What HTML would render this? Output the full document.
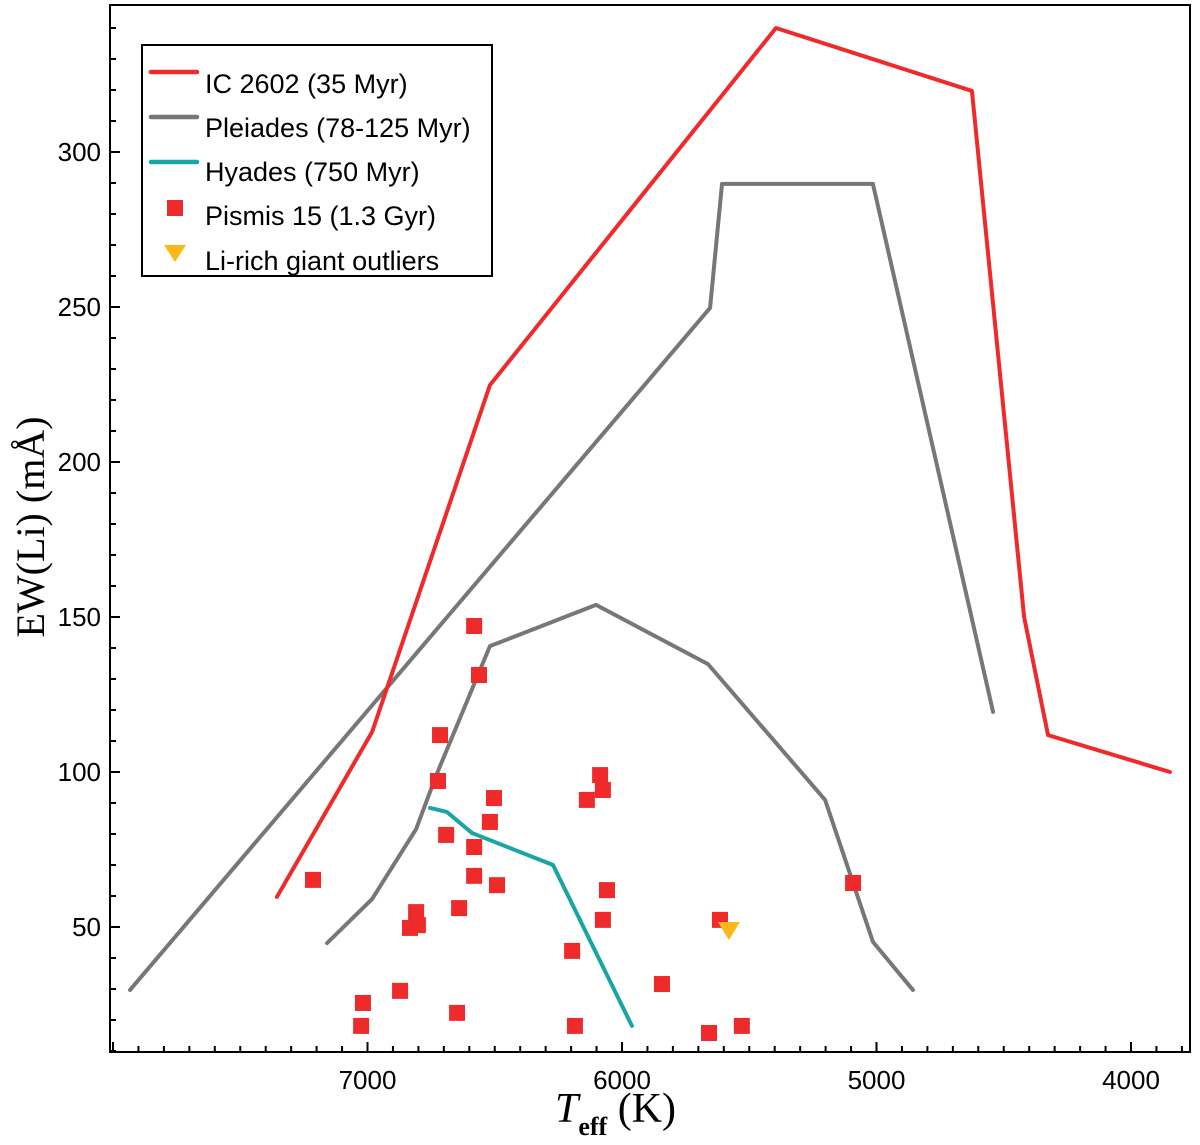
<!DOCTYPE html>
<html><head><meta charset="utf-8"><style>
html,body{margin:0;padding:0;background:#fff;}
svg{display:block;}
</style></head><body>
<svg id="chart" width="1200" height="1145" xmlns="http://www.w3.org/2000/svg">
<rect x="110" y="5" width="1080" height="1047" fill="#fff" stroke="#000" stroke-width="2"/>
<g id="ticks"></g>
<g id="series"></g>
<text transform="translate(44,527) rotate(-90)" text-anchor="middle" font-family="Liberation Serif, serif" font-size="40">EW(Li) (mÅ)</text>
<text x="555" y="1122" font-family="Liberation Serif, serif" font-size="42"><tspan font-style="italic">T</tspan><tspan font-size="26" dy="13" font-weight="bold">eff</tspan><tspan dy="-13"> (K)</tspan></text>
<g>
<rect x="142" y="45" width="350" height="231" fill="#fff" stroke="#000" stroke-width="2"/>
<line x1="151" y1="72" x2="197" y2="72" stroke="#ee2a2a" stroke-width="4.5" stroke-linecap="round"/>
<text x="205" y="93" font-family="Liberation Sans, sans-serif" font-size="27">IC 2602 (35 Myr)</text>
<line x1="151" y1="117" x2="197" y2="117" stroke="#777" stroke-width="4.5" stroke-linecap="round"/>
<text x="205" y="137" font-family="Liberation Sans, sans-serif" font-size="27">Pleiades (78-125 Myr)</text>
<line x1="151" y1="162" x2="197" y2="162" stroke="#1aa5a5" stroke-width="4.5" stroke-linecap="round"/>
<text x="205" y="181" font-family="Liberation Sans, sans-serif" font-size="27">Hyades (750 Myr)</text>
<rect x="167" y="200" width="16" height="16" fill="#ee2a2a"/>
<text x="205" y="225" font-family="Liberation Sans, sans-serif" font-size="27">Pismis 15 (1.3 Gyr)</text>
<polygon points="164,245 186,245 175,262" fill="#fbb818"/>
<text x="205" y="270" font-family="Liberation Sans, sans-serif" font-size="27">Li-rich giant outliers</text>
</g>
</svg>
<script>
const ic2602T=[7356,6982,6519,5395,4625,4420,4326,3847];
const ic2602EW=[59.7,112.9,224.8,340,319.7,150,111.9,100];
const pleiUpperT=[7933,5654,5607,5014,4542];
const pleiUpperEW=[29.7,249.7,289.7,289.7,119.4];
const pleiLowerT=[7159,6982,6809,6731,6519,6102,5662,5202,5014,4857];
const pleiLowerEW=[44.8,59,81.6,98.7,140.6,153.9,134.8,91,45.2,29.7];
const hyadesT=[6754,6688,6589,6271,5961];
const hyadesEW=[88.4,87.1,80.3,70,18.1];
const pismisT=[7214,7018,7025,6872,6648,6715,6723,6691,6581,6562,6503,6519,6581,6581,6491,6640,6809,6833,6802,6196,6185,6086,6075,6138,6059,6075,5843,5658,5529,5615,5092];
const pismisEW=[65.2,25.5,18.1,29.4,22.3,111.9,97.1,79.7,147.1,131.3,91.6,83.9,75.8,66.5,63.5,56.1,54.8,49.7,50.6,42.3,18.1,99,94.2,91,61.9,52.3,31.6,15.8,18.1,52.3,64.2];
const giantT=[5580];
const giantEW=[48.7];
const yTicks=[50,100,150,200,250,300];
const xTicks=[7000,6000,5000,4000];

const X=t=>622+(6000-t)*0.2545;
const Y=v=>1082-3.1*v;
const NS="http://www.w3.org/2000/svg";
const tk=document.getElementById('ticks'), se=document.getElementById('series');
function mk(tag,attrs,parent){const e=document.createElementNS(NS,tag);for(const k in attrs)e.setAttribute(k,attrs[k]);parent.appendChild(e);return e;}
for(let v=10;v<=340;v+=10){
  const maj=v%50===0;
  const l=mk('line',{x1:110,x2:110+(maj?10:6),y1:Y(v),y2:Y(v),stroke:'#000','stroke-width':2},tk);
  
  
}
yTicks.forEach(v=>{
  const t=mk('text',{x:101,y:Y(v)+9,'text-anchor':'end','font-family':'Liberation Sans, sans-serif','font-size':26},tk);
  t.textContent=v;
  
  
});
for(let T=3800;T<=8000;T+=100){
  const maj=T%1000===0;
  const l=mk('line',{x1:X(T),x2:X(T),y1:1052,y2:1052-(maj?10:6),stroke:'#000','stroke-width':2},tk);
  
  
}
xTicks.forEach(T=>{
  const t=mk('text',{x:X(T),y:1089,'text-anchor':'middle','font-family':'Liberation Sans, sans-serif','font-size':26},tk);
  t.textContent=T;
  
  
});
function line(ts,vs,color,name){
  const p=mk('polyline',{points:ts.map((t,i)=>X(t)+','+Y(vs[i])).join(' '),fill:'none',stroke:color,'stroke-width':4,'stroke-linejoin':'round','stroke-linecap':'round'},se);
  
  
}
line(pleiUpperT,pleiUpperEW,'#777','pleiades-upper-line');
line(pleiLowerT,pleiLowerEW,'#777','pleiades-lower-line');
line(ic2602T,ic2602EW,'#ee2a2a','ic2602-line');
line(hyadesT,hyadesEW,'#1aa5a5','hyades-line');
pismisT.forEach((t,i)=>{
  const r=mk('rect',{x:X(t)-8,y:Y(pismisEW[i])-8,width:16,height:16,fill:'#ee2a2a'},se);
  
  
});
giantT.forEach((t,i)=>{
  const x=X(t),y=Y(giantEW[i]);
  const p=mk('polygon',{points:`${x-11},${y-9} ${x+11},${y-9} ${x},${y+9}`,fill:'#fbb818'},se);
  
  
});
</script>
</body></html>
